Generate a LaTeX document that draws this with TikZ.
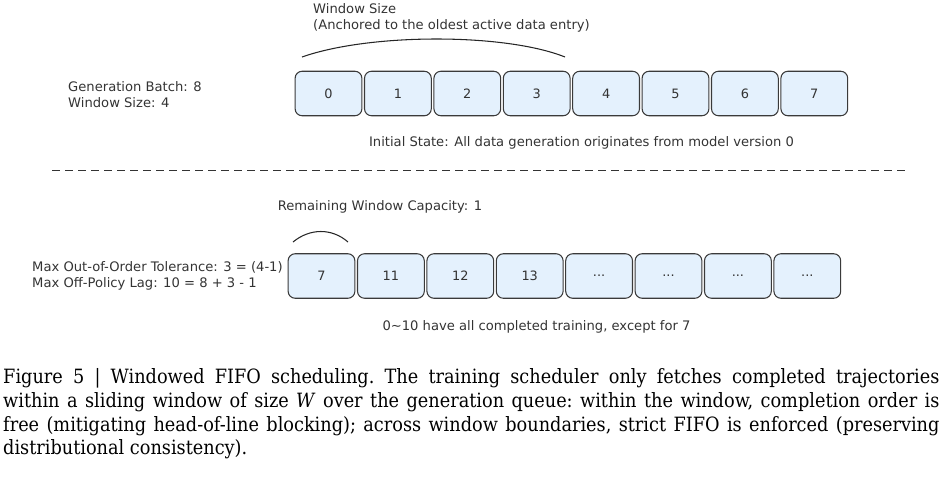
\documentclass[tikz,border=0pt]{standalone}
\usepackage{fontspec}
\newfontfamily\dejavu{DejaVu Sans}
\newfontfamily\capfont{DejaVu Serif Condensed}
\definecolor{slotfill}{HTML}{E4F1FD}
\definecolor{slotline}{HTML}{3A3A3A}
\definecolor{labeltext}{HTML}{333333}
\newcommand\more{...}

\begin{document}
\begin{tikzpicture}[x=0.03cm, y=-0.03cm,
    slot/.style={draw=slotline, fill=slotfill, line width=0.9pt, rounded corners=6pt,
      minimum width=57pt, minimum height=38pt, inner sep=0pt,
      font=\dejavu\fontsize{11}{13}\selectfont, text=labeltext},
    note/.style={font=\dejavu\fontsize{11.2}{13.8}\selectfont, text=labeltext,
      inner sep=0pt, align=left},
    brace/.style={draw=black!85, line width=0.9pt}]
    \useasboundingbox (0,0) rectangle (947,492);

    % Initial state: generation queue 0..7
    \node[note, anchor=west] (batchinfo) at (68,95) {Generation Batch: 8\\Window Size: 4};
    \foreach \i in {0,...,7}
        \node[slot] (t\i) at (328.5+69.4*\i, 93.5) {\i};

    % Window over the first four entries
    \draw[brace] (302,57) .. controls (370,33) and (505,33) .. (565,57);
    \node[note, anchor=west] (winlabel) at (313,18) {Window Size\\(Anchored to the oldest active data entry)};
    \node[note] (initlabel) at (581.5,143) {Initial State: All data generation originates from model version 0};

    % Separator
    \draw[dash pattern=on 6.8pt off 4.3pt, line width=0.8pt, black!80] (52,170) -- (910,170);

    % Later state: queue after training progressed
    \node[note, anchor=west] (lagnote) at (32,276) {Max Out-of-Order Tolerance: 3 = (4-1)\\Max Off-Policy Lag: 10 = 8 + 3 - 1};
    \foreach \lab [count=\i from 0] in {7,11,12,13,\more,\more,\more,\more}
        \node[slot] (b\i) at (321.5+69.4*\i, 276) {\lab};

    % Remaining capacity
    \draw[brace] (293,242) .. controls (310,228) and (332,228) .. (348,242);
    \node[note] (caplabel) at (380,207) {Remaining Window Capacity: 1};
    \node[note] (donelabel) at (536.5,327) {0\textasciitilde10 have all completed training, except for 7};

    % Caption
    \node[anchor=north west, text width=799pt, align=justify, inner sep=0pt,
        font=\capfont\fontsize{16.8}{20.4}\selectfont\frenchspacing] (caption) at (3,368)
        {Figure 5 | Windowed FIFO scheduling. The training scheduler only fetches completed trajectories\linebreak
        within a sliding window of size \textit{W} over the generation queue: within the window, completion order is\linebreak
        free (mitigating head-of-line blocking); across window boundaries, strict FIFO is enforced (preserving\linebreak
        distributional consistency).};
\end{tikzpicture}
\end{document}
